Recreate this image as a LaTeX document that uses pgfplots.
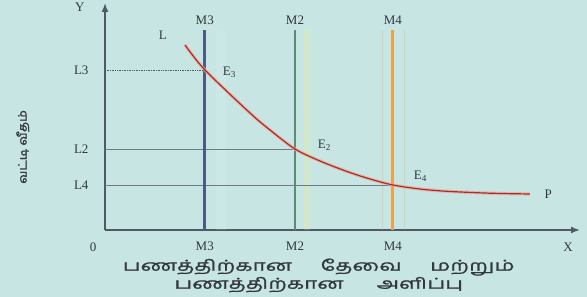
\documentclass[border=0pt]{standalone}
\usepackage{pgfplots}
\pgfplotsset{compat=1.18}
\usepackage{fontspec}
\setmainfont{Liberation Serif}
\newfontfamily\tamil[Script=Tamil,FakeStretch=1.5,FakeBold=1.2]{Hind Madurai}
\newfontfamily\tamily[Script=Tamil,FakeStretch=1.15,FakeBold=1.5]{Hind Madurai}
\usetikzlibrary{arrows.meta}
\definecolor{bg}{HTML}{C6E5E3}
\definecolor{axisgray}{HTML}{4F5A66}
\definecolor{labgray}{HTML}{33383D}
\definecolor{mthree}{HTML}{4A5C82}
\definecolor{mtwo}{HTML}{5E8A78}
\definecolor{mfour}{HTML}{EFA04A}
\definecolor{curve}{HTML}{A8321E}
\definecolor{glow}{HTML}{F2A0A0}
\begin{document}
\begin{tikzpicture}[x=1pt,y=1pt]
\fill[bg] (0,0) rectangle (587,297);
\useasboundingbox (0,0) rectangle (587,297);
\begin{axis}[
  at={(105pt,67pt)}, anchor=south west,
  scale only axis, width=475pt, height=227pt,
  xmin=0, xmax=10, ymin=0, ymax=10,
  axis lines=left,
  axis line style={draw=axisgray, line width=1.6pt, -{Latex[length=9pt,width=7pt]}},
  xtick={2.1,4.0,6.06}, xticklabels={M3,M2,M4},
  ytick={7.05,3.568,1.98}, yticklabels={L3,L2,L4},
  major tick length=0pt,
  tick label style={text=labgray, font=\fontsize{13}{13}\selectfont},
  xticklabel style={yshift=-8pt},
  yticklabel style={xshift=-13pt},
  clip=false,
]
% faint glow bands
\addplot[draw=white, line width=10pt, opacity=0.12] coordinates {(2.45,0) (2.45,8.81)};
\addplot[draw=yellow!60!white, line width=6pt, opacity=0.2] coordinates {(4.25,0) (4.25,8.81)};
\addplot[draw=mfour, line width=1pt, opacity=0.25] coordinates {(5.85,0) (5.85,8.81)};
\addplot[draw=mfour, line width=1pt, opacity=0.25] coordinates {(6.3,0) (6.3,8.81)};
% reference lines
\addplot[draw=axisgray, densely dotted, line width=0.7pt] coordinates {(0,7.05) (2.1,7.05)};
\addplot[draw=axisgray!80, line width=0.7pt] coordinates {(0,3.568) (4.0,3.568)};
\addplot[draw=axisgray!80, line width=0.7pt] coordinates {(0,1.98) (6.06,1.98)};
% money supply lines
\addplot[draw=mthree, line width=3pt] coordinates {(2.1,0) (2.1,8.81)};
\addplot[draw=mtwo, line width=2pt] coordinates {(4.0,0) (4.0,8.81)};
\addplot[draw=mfour, line width=3pt] coordinates {(6.06,0) (6.06,8.81)};
% liquidity preference curve
\addplot[draw=glow, line width=3.2pt, opacity=0.7, smooth] coordinates {
 (1.684,8.150) (2.105,7.048) (3.053,5.154) (3.474,4.405) (4.0,3.568) (4.526,3.040)
 (5.095,2.577) (5.579,2.247) (6.063,1.982) (6.632,1.806) (7.2,1.705) (8.105,1.621) (8.947,1.586)};
\addplot[draw=curve, line width=1.2pt, smooth] coordinates {
 (1.684,8.150) (2.105,7.048) (3.053,5.154) (3.474,4.405) (4.0,3.568) (4.526,3.040)
 (5.095,2.577) (5.579,2.247) (6.063,1.982) (6.632,1.806) (7.2,1.705) (8.105,1.621) (8.947,1.586)};
% labels
\begin{scope}[every node/.style={text=labgray, font=\fontsize{13}{13}\selectfont}]
\node at (axis cs:-0.53,9.82) {Y};
\node at (axis cs:1.22,8.59) {L};
\node at (axis cs:2.1,9.25) {M3};
\node at (axis cs:4.0,9.25) {M2};
\node at (axis cs:6.06,9.25) {M4};
\node at (axis cs:2.62,6.95) {E\textsubscript{3}};
\node at (axis cs:4.62,3.72) {E\textsubscript{2}};
\node at (axis cs:6.64,2.35) {E\textsubscript{4}};
\node at (axis cs:9.33,1.56) {P};
\node at (axis cs:-0.25,-0.75) {0};
\node at (axis cs:9.75,-0.75) {X};
\node[font=\tamil\fontsize{15}{18}\selectfont, align=center, inner sep=0pt]
  at (axis cs:4.5,-2.0) {பணத்திற்கான\hspace{1.9em}தேவை\hspace{1.9em}மற்றும்\\பணத்திற்கான\hspace{2.2em}அளிப்பு};
\node[font=\tamily\fontsize{11.5}{12}\selectfont, rotate=90] at (axis cs:-1.73,3.66) {வட்டி வீதம்};
\end{scope}
\end{axis}
\end{tikzpicture}
\end{document}
